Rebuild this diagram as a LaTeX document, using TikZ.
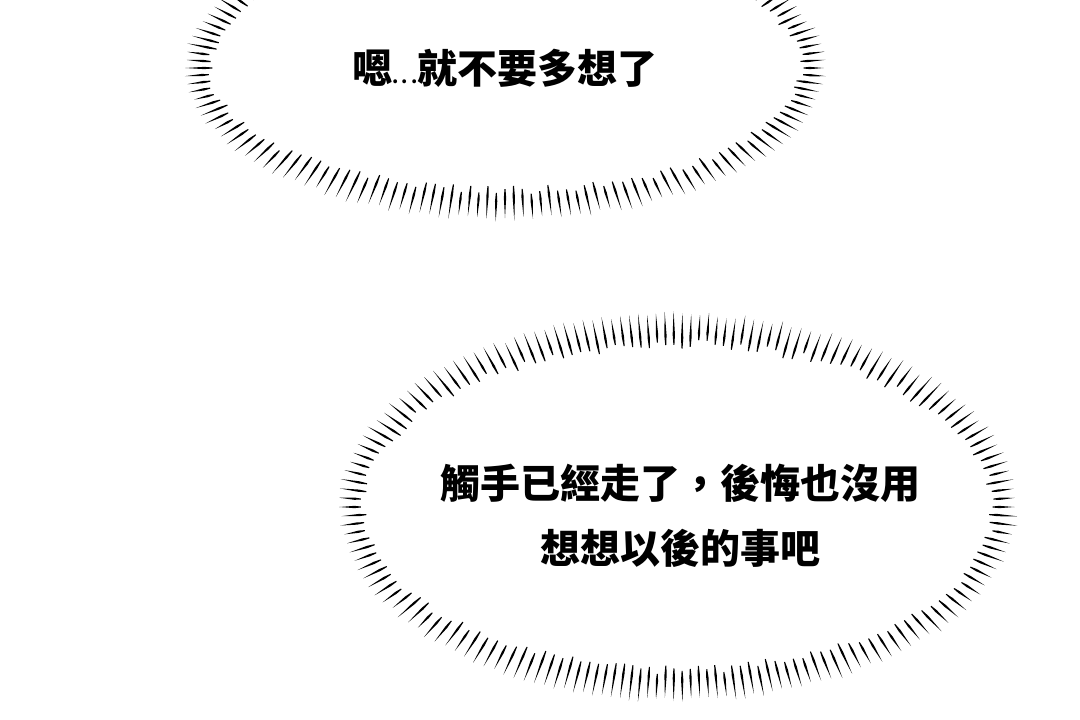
\documentclass[tikz,border=0pt]{standalone}
\usepackage{fontspec}
\newfontfamily\cjk{Noto Sans CJK TC}
\usetikzlibrary{calc}
\tikzset{
  speech/.style={font=\cjk\bfseries\fontsize{40}{65}\selectfont, align=center, text=black},
}
\begin{document}
\begin{tikzpicture}[x=1pt, y=-1pt]
  \useasboundingbox (0,0) rectangle (1080,720);
  \clip (0,0) rectangle (1080,720);
  \pgfmathsetseed{7}
  % burst lines round the two bubbles
  \foreach \cx/\cy/\ai/\bi/\ao/\bo/\n in {505/68/292/118/322/154/152, 678/507/311/158/341/196/170}{
    \foreach \k in {1,...,\n}{
      \pgfmathsetmacro\s{\k/\n*360}
      \pgfmathsetmacro\t{\s+8.5*sin(2*\s)}
      \pgfmathsetmacro\u{0.25*rnd}
      \pgfmathsetmacro\v{0.15*rnd}
      \coordinate (in) at ({\cx+(\ai+(\ao-\ai)*\u)*cos(\t)},{\cy+(\bi+(\bo-\bi)*\u)*sin(\t)});
      \coordinate (out) at ({\cx+(\ao-(\ao-\ai)*\v)*cos(\t)},{\cy+(\bo-(\bo-\bi)*\v)*sin(\t)});
      \coordinate (mid) at ($(in)!0.3!(out)$);
      \fill (out) -- ($(mid)!1.15pt!90:(out)$) -- ($(in)!0.5pt!90:(out)$)
        -- ($(in)!0.5pt!-90:(out)$) -- ($(mid)!1.15pt!-90:(out)$) -- cycle;
    }
  }
  \node[speech] (top) at (505,68) {嗯{\fontsize{18}{18}\selectfont.\,.\,.}就不要多想了};
  \node[speech] (bottom) at (680,516) {觸手已經走了，後悔也沒用\\想想以後的事吧};
\end{tikzpicture}
\end{document}
